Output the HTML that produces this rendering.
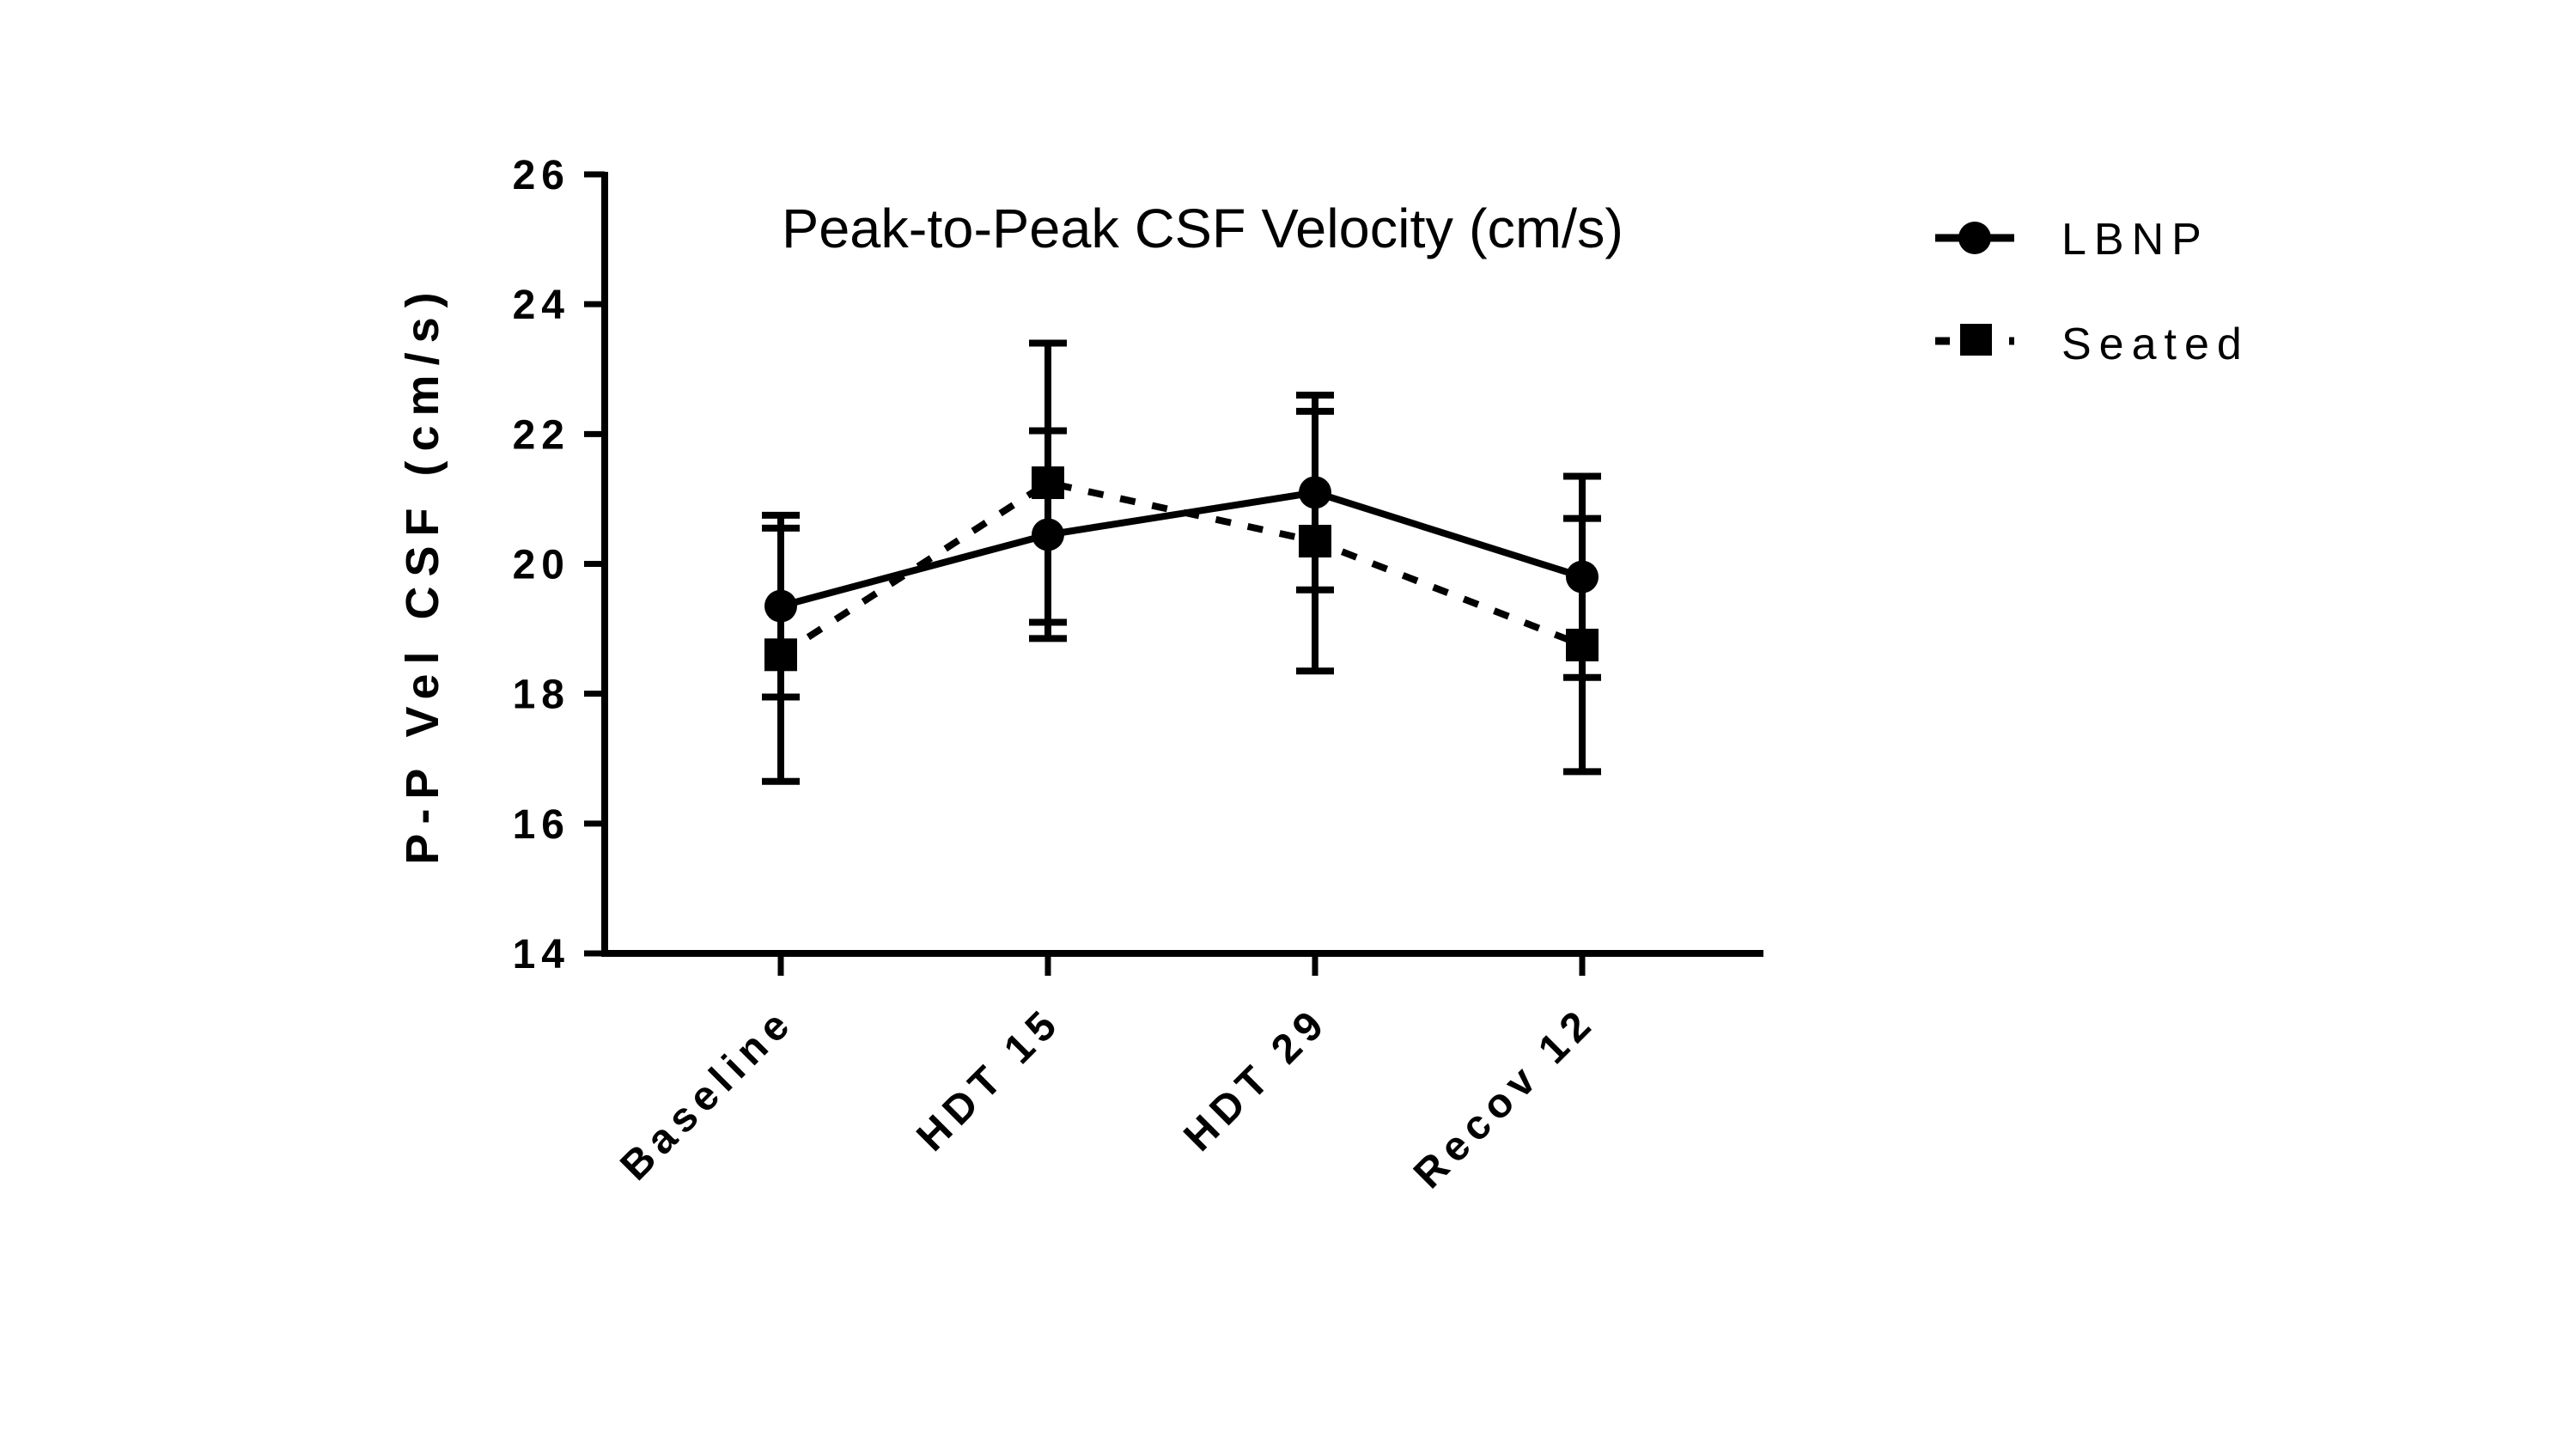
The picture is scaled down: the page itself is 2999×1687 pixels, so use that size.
<!DOCTYPE html>
<html><head><meta charset="utf-8"><style>
html,body{margin:0;padding:0;background:#fff;}
svg{display:block;font-family:"Liberation Sans",Arial,sans-serif;}
</style></head><body>
<svg id="chart" width="2999" height="1687" viewBox="0 0 2999 1687" xmlns="http://www.w3.org/2000/svg">
<rect width="2999" height="1687" fill="#fff"/>
<g id="axes"></g><g id="series"></g>
<text x="1400" y="288" text-anchor="middle" font-size="64" textLength="980" lengthAdjust="spacingAndGlyphs">Peak-to-Peak CSF Velocity (cm/s)</text>
<text transform="translate(510,668) rotate(-90)" text-anchor="middle" font-size="54" font-weight="bold" letter-spacing="11">P-P Vel CSF (cm/s)</text>
<g>
<g>
<line x1="2253" y1="277" x2="2345" y2="277" stroke="#000" stroke-width="9"/>
<circle cx="2299" cy="277" r="19" fill="#000"/>
<text x="2400" y="296" font-size="52" letter-spacing="9">LBNP</text></g>
<g>
<line x1="2253" y1="397" x2="2270" y2="397" stroke="#000" stroke-width="9"/>
<rect x="2282" y="377" width="37" height="37" fill="#000"/>
<line x1="2339" y1="397" x2="2345" y2="397" stroke="#000" stroke-width="9"/>
<text x="2400" y="418" font-size="52" letter-spacing="9">Seated</text></g>
</g>
</svg>
<script>
const categories=["Baseline","HDT 15","HDT 29","Recov 12"];
const lbnpMean=[19.35,20.45,21.1,19.8];
const lbnpErr=[1.4,1.6,1.5,1.55];
const seatedMean=[18.6,21.25,20.35,18.75];
const seatedErr=[1.95,2.15,2.0,1.95];
const yTicks=[14,16,18,20,22,24,26];
const NS="http://www.w3.org/2000/svg";
const X0=704,XEND=2053,Y14=1110,Y26=203;
const catX=[909,1219,1532,1842];
function xs(i){return catX[0]+i*(catX[3]-catX[0])/(categories.length-1);}
function ys(v){return Y14-(v-14)*(Y14-Y26)/12;}
function mk(tag,attrs,parent){const e=document.createElementNS(NS,tag);for(const k in attrs)e.setAttribute(k,attrs[k]);parent.appendChild(e);return e;}
const axes=document.getElementById('axes'),ser=document.getElementById('series');
let a=mk('line',{x1:X0,y1:Y26-3,x2:X0,y2:Y14+4,stroke:'#000','stroke-width':8},axes);


a=mk('line',{x1:X0-4,y1:Y14,x2:XEND,y2:Y14,stroke:'#000','stroke-width':8},axes);


yTicks.forEach(v=>{
 const t=mk('line',{x1:X0-24,y1:ys(v),x2:X0,y2:ys(v),stroke:'#000','stroke-width':7},axes);
 
 
 const l=mk('text',{x:664,y:ys(v)+17,'text-anchor':'end','font-size':48,'font-weight':'bold','letter-spacing':7},axes);
 l.textContent=v;
 
 
});
categories.forEach((c,i)=>{
 const t=mk('line',{x1:xs(i),y1:Y14,x2:xs(i),y2:Y14+26,stroke:'#000','stroke-width':7},axes);
 
 
 const l=mk('text',{transform:`translate(${xs(i)+18},1192) rotate(-45)`,'text-anchor':'end','font-size':48,'font-weight':'bold','letter-spacing':8},axes);
 l.textContent=c;
 
 
});
function drawSeries(mean,err,name,dash,marker){
 const g=mk('g',{},ser);
 
 
 mean.forEach((m,i)=>{
  const e=mk('path',{d:`M${xs(i)},${ys(m-err[i])}V${ys(m+err[i])}M${xs(i)-22},${ys(m-err[i])}h44M${xs(i)-22},${ys(m+err[i])}h44`,stroke:'#000','stroke-width':8,fill:'none'},g);
  
  
 });
 const p=mk('polyline',{points:mean.map((m,i)=>xs(i)+','+ys(m)).join(' '),fill:'none',stroke:'#000','stroke-width':8,'stroke-dasharray':dash},g);
 
 
 mean.forEach((m,i)=>{
  let e;
  if(marker==='circle')e=mk('circle',{cx:xs(i),cy:ys(m),r:19,fill:'#000'},g);
  else e=mk('rect',{x:xs(i)-19,y:ys(m)-19,width:38,height:38,fill:'#000'},g);
  
  
 });
}
drawSeries(seatedMean,seatedErr,'seated','18 20','square');
drawSeries(lbnpMean,lbnpErr,'lbnp','none','circle');
</script>
</body></html>
